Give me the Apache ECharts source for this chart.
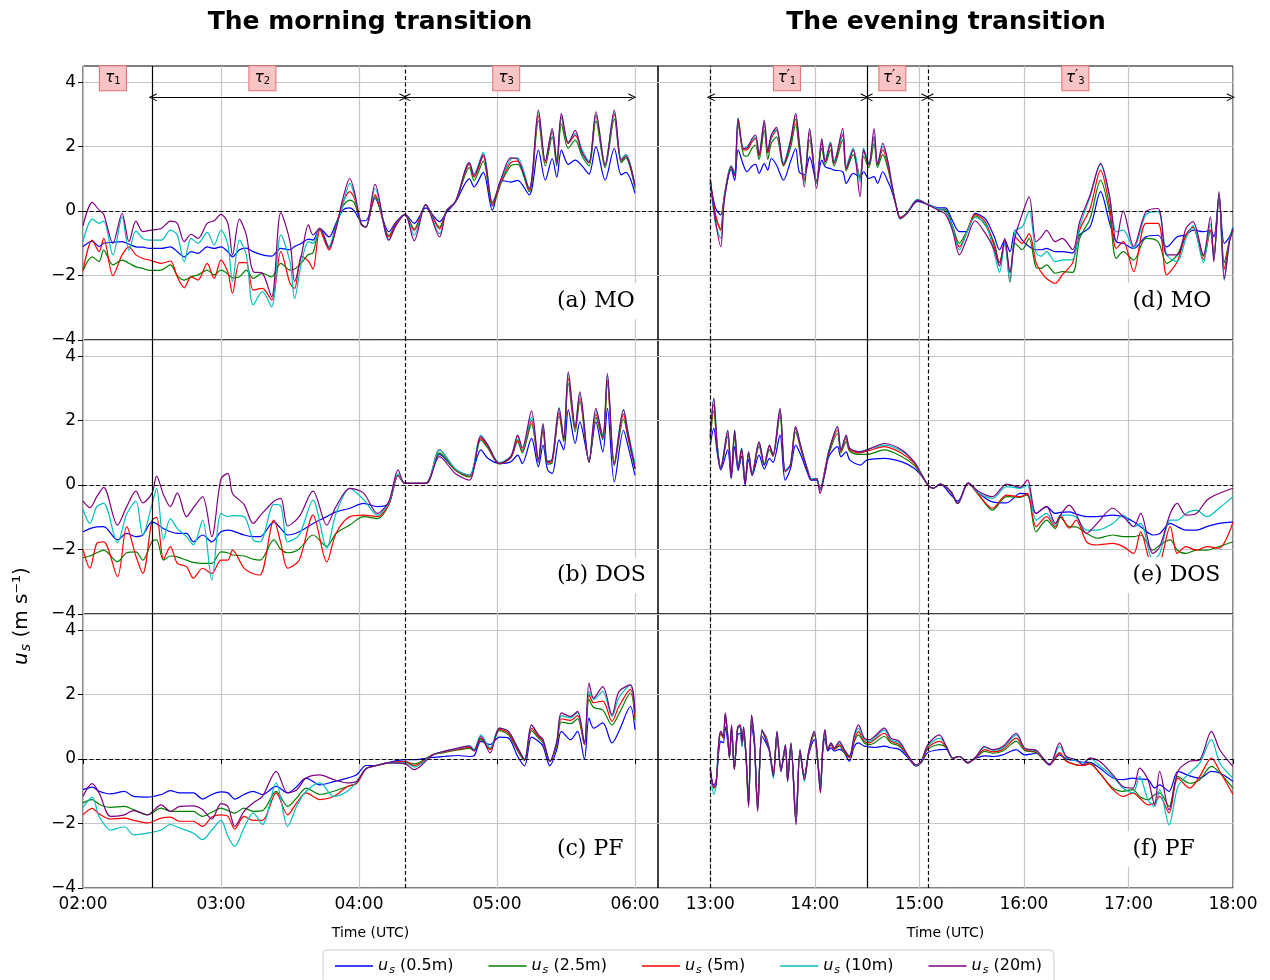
<!DOCTYPE html>
<html>
<head>
<meta charset="utf-8">
<script src="https://cdn.jsdelivr.net/npm/echarts@6/dist/echarts.min.js"></script>
<style>
html,body{margin:0;padding:0;background:#fff;}
#chart{width:1270px;height:980px;}
</style>
</head>
<body>
<div id="chart"></div>
<script>
// Measurement heights and their line colours
const heightLabels = ['0.5m', '2.5m', '5m', '10m', '20m'];
const lineColors = ['#0000ff', '#008000', '#ff0000', '#00bfbf', '#800080'];

// Time in minutes after midnight (UTC)
const amTicks = [120, 180, 240, 300, 360];
const pmTicks = [780, 840, 900, 960, 1020, 1080];
const yTicks = [-4, -2, 0, 2, 4];

// Phase boundaries (minutes) and phase labels (rich text)
const amPhaseEdges = [150, 260];
const pmPhaseEdges = [780, 870, 905];
const amPhaseNames = ['{t|\u03c4}{s|1}', '{t|\u03c4}{s|2}', '{t|\u03c4}{s|3}'];
const pmPhaseNames = ['{t|\u03c4}{q|\u2032}{s|1}', '{t|\u03c4}{q|\u2032}{s|2}', '{t|\u03c4}{q|\u2032}{s|3}'];

// Rows: [time (min), u_s 0.5m, 2.5m, 5m, 10m, 20m]  (m s-1)
const rowsMO_AM = [
  [120,-1.1,-1.85,-1.85,-0.95,-0.45],[124,-0.93,-1.42,-0.9,-0.25,0.27],[127,-1.1,-1.57,-1.26,-0.38,0.03],
  [129,-1.0,-1.21,-0.85,-0.31,-0.1],[133,-0.97,-1.67,-2.0,-1.36,-1.0],[137,-0.95,-1.52,-1.36,-0.18,-0.07],
  [140,-1.03,-1.62,-1.11,-1.21,-0.95],[143,-1.11,-1.73,-1.36,-0.62,-0.31],[146,-1.12,-1.78,-1.47,-0.85,-0.64],
  [149,-1.16,-1.84,-1.52,-0.9,-0.6],[154,-1.16,-1.83,-1.62,-0.9,-0.54],[158,-1.11,-1.67,-1.55,-0.59,-0.31],
  [161,-1.26,-2.0,-2.04,-0.74,-0.38],[164,-1.42,-2.14,-2.38,-1.57,-0.95],[167,-1.26,-2.04,-2.04,-0.85,-0.72],
  [170,-1.31,-1.98,-2.14,-1.0,-0.85],[174,-1.11,-1.83,-1.62,-0.66,-0.38],[177,-1.16,-1.98,-2.09,-1.05,-0.3],
  [180,-1.11,-1.83,-1.52,-0.59,-0.1],[183,-1.26,-1.95,-1.9,-1.05,-0.38],[185,-1.42,-2.07,-2.55,-2.19,-1.36],
  [188,-1.2,-2.04,-1.6,-0.9,-0.25],[191,-1.15,-1.83,-1.6,-1.36,-0.74],[194,-1.26,-2.09,-2.45,-2.91,-1.88],
  [198,-1.36,-1.93,-2.4,-2.5,-1.93],[202,-1.4,-2.04,-2.76,-2.97,-2.66],[206,-1.16,-1.62,-1.26,-0.74,-0.05],
  [210,-1.2,-1.83,-2.24,-1.57,-0.95],[212,-1.1,-1.8,-2.4,-2.71,-2.19],[215,-1.0,-1.6,-1.4,-1.6,-1.36],
  [218,-0.87,-1.35,-1.55,-0.95,-0.43],[220,-0.9,-1.3,-1.8,-1.0,-0.74],[223,-0.54,-0.54,-0.59,-0.54,-0.54],
  [227,-0.8,-1.11,-1.21,-1.11,-1.16],[230,-0.38,-0.43,-0.54,-0.49,-0.54],[233,0.03,0.15,0.25,0.19,0.39],
  [236,0.1,0.34,0.6,0.86,1.01],[238,0.0,0.25,0.4,0.5,0.6],[241,-0.3,-0.43,-0.4,-0.4,-0.4],
  [243,-0.3,-0.48,-0.5,-0.5,-0.5],[247,0.39,0.45,0.5,0.7,0.83],[253,-0.64,-0.75,-0.8,-0.9,-0.9],
  [256,-0.35,-0.4,-0.4,-0.45,-0.45],[260,-0.1,-0.1,-0.1,-0.1,-0.1],[264,-0.38,-0.55,-0.6,-0.75,-0.92],
  [269,0.1,0.18,0.2,0.2,0.2],[275,-0.33,-0.5,-0.55,-0.7,-0.8],[278,-0.05,0.0,0.0,0.0,0.0],
  [282,0.28,0.3,0.3,0.3,0.3],[288,1.0,1.35,1.45,1.5,1.5],[290,0.75,0.95,1.05,1.15,1.1],
  [294,1.2,1.55,1.7,1.82,1.75],[298,0.03,0.15,0.2,0.28,0.25],[302,0.95,0.9,0.95,1.0,1.05],
  [306,0.9,1.4,1.5,1.6,1.65],[309,0.95,1.45,1.55,1.65,1.6],[314,0.5,0.6,0.65,0.7,0.7],
  [318,1.89,2.8,2.95,3.05,3.13],[321,0.96,1.4,1.5,1.55,1.55],[324,1.63,2.3,2.45,2.5,2.56],
  [326,1.05,1.4,1.5,1.55,1.5],[328,1.89,2.7,2.9,2.95,3.03],[331,1.45,1.95,2.1,2.15,2.1],
  [334,1.58,2.2,2.35,2.4,2.5],[337,1.4,1.7,1.85,1.9,1.8],[340,1.15,1.4,1.5,1.55,1.5],
  [343,2.0,2.8,2.95,3.0,3.08],[347,0.96,1.35,1.45,1.45,1.4],[351,1.94,2.85,3.0,3.05,3.13],
  [354,1.12,1.5,1.6,1.6,1.55],[356,1.2,1.65,1.75,1.75,1.7],[360,0.55,0.7,0.75,0.75,0.8]
];

const rowsMO_PM = [
  [780,0.85,0.9,1.0,0.9,1.0],[783,0.1,-0.2,-0.1,-0.4,-0.3],[786,-0.12,-0.55,-0.6,-0.85,-1.1],
  [788,0.4,0.45,0.45,0.4,0.3],[792,1.3,1.3,1.4,1.4,1.37],[794,0.95,1.15,1.2,1.2,1.1],
  [796,1.9,2.7,2.8,2.9,2.87],[799,1.43,1.75,1.9,1.95,1.94],[801,1.22,1.7,1.9,2.0,1.95],
  [804,1.4,1.95,2.15,2.2,2.25],[806,1.45,2.05,2.25,2.3,2.36],[808,1.17,1.6,1.7,1.8,1.75],
  [811,1.47,2.5,2.7,2.75,2.82],[813,1.27,1.6,1.8,1.9,1.85],[815,1.63,2.1,2.25,2.3,2.36],
  [818,1.43,2.3,2.5,2.55,2.6],[822,0.96,1.4,1.45,1.5,1.43],[826,1.53,1.95,2.1,2.2,2.15],
  [829,1.94,2.7,2.85,2.95,3.03],[831,1.22,1.95,2.1,2.2,2.15],[834,1.12,1.0,0.95,0.9,0.75],
  [837,1.68,2.2,2.4,2.5,2.56],[841,0.91,0.95,0.9,0.85,0.7],[844,1.58,1.95,2.1,2.2,2.25],
  [846,1.37,1.45,1.55,1.6,1.53],[849,1.32,1.9,2.05,2.15,2.1],[851,1.27,1.4,1.5,1.55,1.48],
  [856,1.22,2.2,2.35,2.4,2.56],[858,0.86,1.25,1.35,1.4,1.3],[862,1.17,1.75,1.9,1.95,1.9],
  [866,1.07,1.05,1.0,0.9,0.44],[868,1.22,1.7,1.85,1.95,1.9],[871,1.01,1.35,1.45,1.5,1.43],
  [874,1.07,2.1,2.3,2.3,2.56],[876,0.86,1.35,1.45,1.5,1.43],[879,1.22,1.75,1.9,2.0,2.1],
  [882,0.91,1.3,1.4,1.5,1.53],[884,0.65,0.8,0.85,0.9,0.9],[887,0.1,0.1,0.1,0.1,0.08],
  [889,-0.2,-0.2,-0.2,-0.25,-0.23],[893,-0.05,-0.05,-0.05,-0.05,-0.07],[899,0.3,0.33,0.35,0.36,0.34],
  [905,0.2,0.2,0.2,0.2,0.19],[912,0.1,0.05,0.05,0.05,0.0],[915,0.1,0.05,0.0,0.0,-0.1],
  [919,-0.3,-0.45,-0.5,-0.5,-0.6],[923,-0.64,-1.0,-1.11,-1.21,-1.36],[927,-0.64,-0.65,-0.7,-0.7,-0.9],
  [932,-0.07,-0.15,-0.1,-0.2,-0.3],[938,-0.25,-0.45,-0.35,-0.4,-0.7],[943,-0.8,-1.0,-1.1,-1.3,-1.2],
  [946,-1.2,-1.6,-1.6,-1.9,-1.7],[949,-0.9,-1.0,-0.95,-1.0,-0.85],[952,-1.26,-1.9,-2.2,-2.2,-1.9],
  [955,-0.6,-1.0,-0.8,-0.6,-0.8],[959,-0.9,-1.2,-1.0,-0.5,-0.1],[963,-1.1,-0.85,-0.7,0.0,0.44],
  [967,-1.2,-1.75,-1.6,-1.3,-0.95],[970,-1.2,-1.78,-1.9,-1.4,-0.8],[973,-1.16,-1.67,-2.09,-1.26,-0.6],
  [978,-1.26,-1.93,-2.24,-1.57,-0.95],[982,-1.26,-1.88,-1.98,-1.52,-0.85],[988,-1.3,-1.9,-1.6,-1.5,-1.2],
  [992,-0.74,-0.85,-0.59,-0.49,-0.33],[998,-0.49,-0.23,0.08,0.44,0.5],[1004,0.6,0.96,1.27,1.45,1.48],
  [1009,-0.33,-0.02,0.19,0.5,0.5],[1013,-0.95,-1.47,-1.16,-0.64,-0.95],[1017,-1.0,-1.26,-0.95,-0.59,0.0],
  [1023,-1.16,-1.52,-1.88,-1.16,-1.1],[1030,-0.8,-0.85,-0.38,-0.12,-0.02],[1037,-0.75,-0.95,-0.38,-0.02,0.08],
  [1042,-1.11,-1.62,-1.98,-1.36,-1.36],[1048,-0.8,-1.36,-1.57,-1.57,-1.36],[1053,-0.74,-0.74,-0.74,-0.85,-0.54],
  [1057,-0.59,-0.5,-0.5,-0.45,-0.33],[1063,-0.64,-1.4,-1.5,-1.6,-1.36],[1067,-0.6,-0.6,-0.6,-0.4,-0.18],
  [1069,-0.8,-1.4,-1.4,-1.5,-1.57],[1072,0.4,0.5,0.5,0.55,0.6],[1075,-1.0,-1.6,-1.8,-2.15,-2.1],
  [1078,-0.8,-0.9,-0.9,-0.9,-0.95],[1080,-0.5,-0.6,-0.6,-0.5,-0.54]
];

const rowsDOS_AM = [
  [120,-1.45,-2.25,-2.0,-0.75,-0.5],[123,-1.35,-2.2,-2.58,-1.19,-0.7],[126,-1.3,-2.1,-1.81,-0.67,-0.36],
  [129,-1.29,-2.02,-1.76,-0.57,-0.07],[135,-1.7,-2.38,-2.84,-1.79,-1.24],[139,-1.5,-2.1,-1.29,-0.9,-0.67],
  [143,-1.6,-2.07,-2.2,-0.5,-0.19],[146,-1.55,-2.33,-2.74,-1.55,-0.55],[150,-1.14,-1.75,-1.1,-0.6,-0.25],
  [152,-1.2,-1.7,-1.0,-0.1,0.28],[155,-1.35,-2.33,-2.3,-1.7,-0.3],[158,-1.45,-2.2,-1.91,-1.04,-0.67],
  [161,-1.5,-2.23,-2.43,-1.35,-0.24],[165,-1.5,-2.33,-2.53,-1.6,-0.98],[168,-1.76,-2.4,-2.89,-1.86,-0.7],
  [172,-1.55,-2.43,-2.58,-1.09,-0.36],[176,-1.76,-2.43,-2.74,-2.95,-1.6],[180,-1.45,-2.07,-2.33,-0.88,0.2],
  [183,-1.4,-2.1,-2.33,-0.98,0.36],[185,-1.42,-2.17,-2.02,-0.95,-0.26],[190,-1.55,-2.2,-2.58,-0.98,-0.6],
  [194,-1.6,-2.3,-2.75,-1.7,-1.19],[197,-1.6,-2.33,-2.79,-1.76,-0.95],[203,-1.14,-1.7,-1.09,-0.6,-0.5],
  [206,-1.35,-2.0,-1.8,-0.65,-0.41],[209,-1.55,-2.1,-2.58,-1.76,-1.27],[214,-1.45,-1.98,-2.33,-1.55,-0.98],
  [220,-1.19,-1.55,-0.93,-0.47,-0.19],[226,-0.98,-1.9,-2.38,-1.96,-1.24],[230,-0.83,-1.5,-1.5,-0.88,-0.67],
  [236,-0.72,-1.24,-0.98,-0.1,-0.1],[242,-0.57,-0.98,-0.93,-0.45,-0.25],[248,-0.67,-1.04,-0.98,-0.93,-0.88],
  [253,-0.57,-0.6,-0.6,-0.55,-0.5],[257,0.3,0.3,0.3,0.35,0.47],[260,0.05,0.05,0.05,0.05,0.05],
  [269,0.05,0.05,0.05,0.05,0.05],[275,0.95,1.0,1.09,1.09,0.88],[282,0.47,0.45,0.47,0.5,0.35],
  [288,0.3,0.25,0.28,0.3,0.15],[293,1.09,1.4,1.45,1.55,1.5],[296,0.83,1.15,1.2,1.25,1.24],
  [301,0.67,0.65,0.67,0.7,0.67],[306,0.72,0.85,0.85,0.9,0.88],[309,0.93,1.35,1.4,1.5,1.55],
  [311,0.67,1.0,1.05,1.1,1.15],[315,1.45,1.9,2.0,2.1,2.3],[318,0.57,0.7,0.75,0.8,0.8],
  [320,1.24,1.7,1.75,1.85,1.91],[322,0.47,0.65,0.7,0.75,0.72],[324,0.36,0.7,0.75,0.8,0.8],
  [327,1.4,2.15,2.25,2.4,2.38],[329,1.09,1.35,1.4,1.45,1.45],[331,2.33,3.15,3.3,3.45,3.51],
  [334,1.29,1.65,1.75,1.85,1.8],[336,1.96,2.6,2.7,2.85,2.89],[340,0.78,0.7,0.72,0.75,0.72],
  [343,1.96,2.1,2.2,2.3,2.38],[346,1.03,1.4,1.45,1.55,1.5],[348,2.38,3.15,3.25,3.4,3.46],
  [351,0.1,0.6,0.65,0.7,0.67],[355,1.7,2.05,2.2,2.35,2.33],[357,1.2,1.45,1.5,1.65,1.6],
  [360,0.3,0.5,0.55,0.67,0.5]
];

const rowsDOS_PM = [
  [780,1.24,1.4,1.5,1.6,1.5],[782,1.76,2.3,2.5,2.69,2.69],[784,1.0,1.15,1.2,1.25,1.19],
  [786,0.47,0.55,0.55,0.55,0.52],[790,1.09,1.5,1.6,1.7,1.7],[792,0.2,0.3,0.3,0.3,0.26],
  [794,1.19,1.5,1.6,1.7,1.7],[796,0.45,0.55,0.55,0.55,0.5],[798,0.9,1.05,1.1,1.14,1.14],
  [800,0.0,0.1,0.1,0.1,0.05],[802,0.8,0.95,0.98,1.03,1.03],[804,0.3,0.35,0.35,0.35,0.31],
  [808,0.93,1.2,1.3,1.34,1.34],[811,0.5,0.62,0.65,0.65,0.62],[814,0.83,1.1,1.2,1.24,1.24],
  [816,0.7,0.9,0.9,0.95,0.93],[820,1.55,2.15,2.3,2.35,2.38],[823,0.15,0.45,0.45,0.45,0.41],
  [826,0.5,0.6,0.62,0.65,0.62],[829,1.24,1.65,1.75,1.8,1.81],[832,0.93,1.1,1.15,1.2,1.19],
  [836,0.35,0.45,0.45,0.45,0.41],[838,0.15,0.2,0.2,0.2,0.15],[841,0.15,0.2,0.2,0.2,0.2],
  [843,-0.1,-0.15,-0.15,-0.15,-0.26],[846,0.4,0.5,0.55,0.5,0.46],[848,0.88,0.95,1.03,1.05,1.03],
  [853,1.19,1.6,1.7,1.8,1.81],[855,0.88,1.0,1.05,1.1,1.09],[858,1.03,1.35,1.45,1.5,1.55],
  [860,0.78,1.05,1.1,1.15,1.14],[866,0.62,0.95,1.0,1.03,1.03],[870,0.78,0.95,1.05,1.1,1.09],
  [880,0.83,1.09,1.19,1.24,1.29],[890,0.72,0.88,0.98,1.05,1.09],[897,0.52,0.62,0.68,0.72,0.72],
  [901,0.3,0.32,0.34,0.36,0.36],[905,0.0,0.0,0.0,0.0,0.0],[908,-0.1,-0.1,-0.1,-0.1,-0.1],
  [912,0.03,0.03,0.03,0.03,0.03],[918,-0.3,-0.2,-0.2,-0.2,-0.2],[922,-0.5,-0.57,-0.57,-0.57,-0.57],
  [928,0.05,0.05,0.05,0.07,0.07],[934,-0.25,-0.3,-0.3,-0.25,-0.2],[942,-0.52,-0.78,-0.72,-0.41,-0.36],
  [950,-0.55,-0.36,-0.31,-0.05,0.03],[958,-0.26,-0.38,-0.36,-0.1,-0.07],[962,-0.3,-0.3,-0.26,0.0,0.16],
  [967,-0.88,-1.45,-1.29,-1.09,-0.88],[973,-0.67,-1.09,-0.98,-0.88,-0.67],[978,-0.88,-1.35,-1.3,-1.24,-1.19],
  [981,-0.85,-1.0,-0.95,-0.93,-0.93],[986,-0.83,-1.29,-1.34,-0.93,-0.62],[990,-0.9,-1.3,-1.09,-1.0,-0.9],
  [996,-0.98,-1.5,-1.76,-1.4,-1.5],[1002,-0.98,-1.65,-1.86,-1.4,-1.19],[1011,-0.93,-1.55,-1.81,-1.19,-0.72],
  [1017,-0.98,-1.6,-1.91,-0.93,-0.98],[1023,-1.14,-1.6,-2.12,-1.29,-1.29],[1027,-1.29,-1.55,-1.45,-1.19,-0.88],
  [1034,-1.55,-2.02,-2.53,-2.33,-2.12],[1038,-1.5,-1.86,-2.43,-2.12,-1.91],[1044,-1.19,-1.7,-1.29,-1.09,-0.88],
  [1048,-1.29,-2.02,-2.12,-1.09,-0.57],[1053,-1.4,-2.12,-1.91,-0.88,-0.93],[1059,-1.4,-2.02,-2.02,-0.78,-0.88],
  [1065,-1.29,-2.02,-1.91,-0.98,-0.47],[1072,-1.19,-1.91,-1.96,-0.72,-0.26],[1080,-1.14,-1.76,-1.14,-0.36,-0.1]
];

const rowsPF_AM = [
  [120,-0.95,-1.36,-1.73,-1.5,-1.15],[124,-0.87,-1.26,-1.53,-1.18,-0.76],[127,-1.0,-1.4,-1.7,-1.78,-1.05],
  [132,-1.08,-1.5,-1.86,-2.2,-1.78],[138,-1.0,-1.47,-1.83,-2.1,-1.73],[142,-1.16,-1.57,-1.9,-2.35,-1.6],
  [148,-1.18,-1.73,-1.98,-2.3,-1.73],[154,-1.1,-1.52,-1.83,-2.2,-1.42],[158,-0.98,-1.62,-1.8,-2.03,-1.62],
  [162,-1.05,-1.62,-1.93,-2.14,-1.47],[168,-1.05,-1.62,-1.93,-2.3,-1.45],[172,-1.24,-1.78,-2.09,-2.5,-1.57],
  [176,-1.1,-1.65,-1.8,-2.2,-1.86],[180,-1.02,-1.52,-1.73,-1.9,-1.38],[183,-1.05,-1.6,-1.78,-2.4,-1.47],
  [186,-1.24,-1.68,-2.17,-2.71,-2.09],[190,-1.1,-1.52,-1.78,-2.14,-1.62],[194,-1.0,-1.62,-1.9,-1.67,-1.36],
  [198,-1.1,-1.6,-1.9,-2.03,-1.16],[204,-0.85,-1.0,-1.05,-0.74,-0.38],[209,-1.05,-1.47,-1.73,-2.09,-1.05],
  [213,-0.85,-1.2,-1.35,-1.45,-0.95],[217,-0.59,-0.9,-1.05,-1.0,-0.59],[223,-0.8,-1.1,-1.26,-0.74,-0.49],
  [229,-0.7,-1.0,-1.16,-1.16,-0.64],[235,-0.59,-0.85,-0.85,-1.0,-0.74],[239,-0.49,-0.75,-0.75,-0.7,-0.69],
  [243,-0.2,-0.3,-0.3,-0.3,-0.3],[247,-0.2,-0.21,-0.21,-0.21,-0.21],[253,-0.1,-0.12,-0.12,-0.12,-0.12],
  [260,-0.02,-0.08,-0.08,-0.12,-0.15],[264,-0.02,-0.15,-0.2,-0.25,-0.33],[272,0.05,0.13,0.13,0.13,0.13],
  [277,0.08,0.2,0.22,0.24,0.24],[283,0.11,0.28,0.3,0.32,0.34],[288,0.08,0.33,0.36,0.41,0.41],
  [290,0.1,0.26,0.28,0.3,0.25],[293,0.55,0.6,0.65,0.75,0.7],[297,0.45,0.3,0.3,0.35,0.19],
  [301,0.68,0.88,0.93,0.96,0.96],[305,0.65,0.75,0.8,0.86,0.86],[309,0.08,0.25,0.3,0.36,0.34],
  [312,-0.21,-0.05,-0.02,0.0,-0.02],[315,0.68,0.88,0.95,1.05,1.06],[318,0.55,0.65,0.7,0.75,0.75],
  [320,0.4,0.5,0.55,0.6,0.6],[323,-0.21,-0.07,-0.07,-0.05,-0.07],[326,0.3,0.45,0.5,0.55,0.55],
  [328,0.86,1.15,1.25,1.35,1.43],[332,0.6,1.1,1.2,1.28,1.32],[335,0.86,1.25,1.35,1.45,1.48],
  [338,0.0,0.45,0.45,0.5,0.5],[340,1.27,1.85,2.0,2.1,2.36],[342,0.96,1.6,1.75,1.85,1.89],
  [346,1.12,1.52,1.8,2.1,2.25],[350,0.5,1.06,1.17,1.32,1.37],[353,0.86,1.4,1.63,1.9,2.09],
  [358,1.63,2.05,2.16,2.3,2.3],[360,0.91,1.2,1.3,1.45,1.43]
];

const rowsPF_PM = [
  [780,-0.3,-0.3,-0.3,-0.4,-0.3],[782,-0.8,-0.9,-0.9,-1.1,-0.85],[783.3,-0.7,-0.8,-0.8,-0.85,-0.8],
  [785,0.3,0.55,0.55,0.6,0.6],[786.1,0.55,0.78,0.8,0.86,0.86],[787.5,0.5,0.65,0.65,0.7,0.7],
  [788.6,1.0,1.3,1.35,1.4,1.43],[790,0.55,0.7,0.7,0.75,0.75],[791,0.1,0.05,0.05,0.05,0.03],
  [792.2,0.8,0.95,1.0,1.0,1.06],[793.8,-0.2,-0.3,-0.3,-0.3,-0.33],[795.7,0.75,0.95,1.0,0.95,0.96],
  [797.2,0.8,1.0,1.05,1.0,1.06],[798.2,0.4,0.45,0.45,0.4,0.5],[799.1,0.75,0.9,0.95,0.95,1.0],
  [800.5,0.1,0.1,0.1,0.1,0.13],[802,-1.2,-1.4,-1.4,-1.5,-1.47],[803.7,1.05,1.25,1.3,1.35,1.37],
  [805.3,0.45,0.55,0.55,0.6,0.6],[807.2,-1.3,-1.5,-1.55,-1.6,-1.62],[809.7,0.7,0.85,0.85,0.9,0.91],
  [812,0.5,0.6,0.7,0.65,0.6],[813.9,0.25,0.3,0.3,0.3,0.29],[816.2,-0.4,-0.5,-0.5,-0.6,-0.54],
  [818.3,0.65,0.8,0.8,0.85,0.86],[820.6,-0.3,-0.35,-0.35,-0.4,-0.38],[823.1,0.35,0.4,0.4,0.45,0.44],
  [824.4,-0.55,-0.65,-0.65,-0.7,-0.69],[826.3,0.4,0.45,0.45,0.5,0.5],[829.2,-1.7,-1.9,-1.95,-2.0,-2.04],
  [831.5,0.2,0.25,0.25,0.3,0.29],[834,-0.5,-0.6,-0.6,-0.7,-0.64],[836.5,0.15,0.2,0.2,0.25,0.24],
  [839.7,0.6,0.75,0.8,0.85,0.86],[841.6,0.0,0.0,0.0,0.0,-0.02],[843.2,-0.8,-0.95,-0.95,-1.0,-1.05],
  [844.5,0.2,0.3,0.3,0.3,0.29],[845.8,0.65,0.8,0.85,0.9,0.91],[847.4,0.25,0.3,0.3,0.3,0.29],
  [849.3,0.35,0.45,0.45,0.5,0.5],[851.2,0.25,0.3,0.3,0.35,0.34],[854.1,0.3,0.4,0.45,0.5,0.55],
  [856.9,0.2,0.2,0.25,0.3,0.29],[859.8,-0.07,0.05,0.05,0.1,0.08],[862.7,0.4,0.55,0.6,0.7,0.75],
  [865,0.5,0.75,0.85,0.95,1.06],[868.4,0.4,0.5,0.55,0.6,0.65],[871.3,0.38,0.45,0.5,0.55,0.6],
  [874.2,0.36,0.5,0.6,0.65,0.7],[879.9,0.4,0.7,0.8,0.9,0.96],[883.7,0.35,0.5,0.55,0.6,0.65],
  [888.5,0.3,0.4,0.45,0.5,0.55],[893.3,0.05,0.1,0.1,0.13,0.13],[898.1,-0.22,-0.2,-0.2,-0.2,-0.18],
  [901,-0.12,-0.1,-0.1,-0.08,-0.07],[904.8,0.2,0.3,0.35,0.4,0.44],[911.5,0.29,0.45,0.55,0.65,0.75],
  [915.4,0.3,0.36,0.38,0.4,0.4],[919.2,0.03,0.03,0.03,0.03,0.03],[923.1,0.08,0.08,0.08,0.08,0.08],
  [927.8,-0.1,-0.12,-0.12,-0.12,-0.12],[932.6,0.03,0.05,0.06,0.08,0.08],[937.4,0.1,0.24,0.29,0.36,0.39],
  [942.2,0.08,0.18,0.22,0.27,0.29],[947.9,0.13,0.25,0.3,0.35,0.39],[955.6,0.29,0.55,0.65,0.75,0.8],
  [960.4,0.13,0.27,0.3,0.33,0.34],[967.1,0.18,0.2,0.22,0.25,0.27],[974.7,-0.15,-0.18,-0.18,-0.18,-0.18],
  [980.5,0.13,0.18,0.2,0.39,0.5],[984.3,0.0,-0.05,-0.07,0.05,0.08],[990,-0.05,-0.18,-0.18,-0.05,-0.02],
  [993.9,-0.1,-0.2,-0.2,-0.12,-0.18],[997.7,-0.1,-0.12,-0.15,0.03,0.03],[1003.4,-0.28,-0.43,-0.43,-0.2,-0.07],
  [1011.1,-0.59,-0.9,-0.95,-0.54,-0.49],[1016.8,-0.64,-1.0,-1.16,-0.9,-0.85],[1022.6,-0.59,-0.95,-1.05,-1.05,-0.9],
  [1026.4,-0.62,-1.16,-1.21,-0.54,-0.28],[1031.2,-0.64,-1.26,-1.42,-1.26,-0.64],[1035,-0.9,-1.11,-1.36,-1.47,-1.42],
  [1037.9,-0.8,-1.05,-1.16,-0.95,-0.38],[1043.3,-1.0,-1.47,-1.67,-2.04,-1.57],[1048.4,-0.38,-0.54,-0.59,-0.85,-0.38],
  [1055.1,-0.52,-0.75,-0.9,-0.43,-0.07],[1060.9,-0.59,-0.64,-0.54,-0.12,-0.02],[1067.6,-0.38,-0.23,0.03,0.6,0.86],
  [1072.4,-0.43,-0.43,-0.38,-0.12,0.29],[1080,-0.69,-0.9,-1.1,-0.59,-0.23]
];

// Panel layout: [rows, column (0 = morning, 1 = evening), row index, panel tag]
const panels = [
  [rowsMO_AM, 0, 0, '(a) MO'], [rowsMO_PM, 1, 0, '(d) MO'],
  [rowsDOS_AM, 0, 1, '(b) DOS'], [rowsDOS_PM, 1, 1, '(e) DOS'],
  [rowsPF_AM, 0, 2, '(c) PF'], [rowsPF_PM, 1, 2, '(f) PF']
];

const SANS = 'DejaVu Sans';
const SERIF = 'DejaVu Serif';
const GRID_GRAY = '#c6c6c6';
const colLeft = [83, 658];
const rowTop = [66, 340, 614];
const panelW = 575, panelH = 274;

const hhmm = m => {
  const h = Math.floor(m / 60), mm = Math.round(m - h * 60);
  return String(h).padStart(2, '0') + ':' + String(mm).padStart(2, '0');
};
const minusFmt = v => (v < 0 ? '\u2212' + Math.abs(v) : String(v));

const chevron = 'path://M0,10 L5,0 L10,10 L8.6,10 L5,2.8 L1.4,10 Z';

const tauRich = {
  t: { fontSize: 15, fontStyle: 'italic', fontFamily: SANS, color: '#000' },
  q: { fontSize: 14, fontFamily: SANS, color: '#000', padding: [0, 0, 6, 0] },
  s: { fontSize: 10, fontFamily: SANS, color: '#000', padding: [7, 0, 0, 0] }
};

const grids = [], xAxes = [], yAxes = [], series = [];

panels.forEach((p, g) => {
  const [rows, col, row, tag] = p;
  const am = col === 0;
  const bottom = row === 2;
  const ticks = am ? amTicks : pmTicks;
  grids.push({
    left: colLeft[col], top: rowTop[row], width: panelW, height: panelH,
    show: true, borderColor: '#000', borderWidth: 1, backgroundColor: 'transparent'
  });
  xAxes.push({
    gridIndex: g, type: 'value', min: am ? 120 : 750, max: am ? 370 : 1080,
    axisLine: { show: false },
    axisTick: { show: bottom, customValues: ticks, length: 5, lineStyle: { color: '#000', width: 1 } },
    axisLabel: { show: bottom, customValues: ticks, formatter: hhmm, fontSize: 17, fontFamily: SANS, color: '#000', margin: 8 },
    splitLine: { show: true, lineStyle: { color: GRID_GRAY, width: 1.2 } },
    name: bottom ? 'Time (UTC)' : '', nameLocation: 'middle', nameGap: 38,
    nameTextStyle: { fontSize: 14, fontFamily: SANS, color: '#000' }
  });
  yAxes.push({
    gridIndex: g, type: 'value', min: -4, max: 4.5,
    axisLine: { show: false },
    axisTick: { show: am, customValues: yTicks, length: 5, lineStyle: { color: '#000', width: 1 } },
    axisLabel: { show: am, customValues: yTicks, formatter: minusFmt, fontSize: 17, fontFamily: SANS, color: '#000', margin: 7 },
    splitLine: { show: true, lineStyle: { color: GRID_GRAY, width: 1.2 } }
  });

  const edges = am ? amPhaseEdges : pmPhaseEdges;
  const edgeStyles = am ? ['solid', 'dashed'] : ['dashed', 'solid', 'dashed'];
  const refLines = [{ yAxis: 0, lineStyle: { type: [4, 2.5], color: '#000', width: 1.2 } }];
  edges.forEach((e, i) => refLines.push({
    xAxis: e,
    lineStyle: { type: edgeStyles[i] === 'dashed' ? [4, 2.5] : 'solid', color: '#000', width: 1.2 }
  }));

  // Phase arrows and labels on the top row
  const arrowY = 3.53, boxY = 4.12;
  const arrowSpans = am ? [[150.3, 259.3], [260.6, 358.8]]
                        : [[780.3, 868.6], [870.8, 903.5], [905.8, 1078.8]];
  const labelX = am ? [133, 198, 304] : [824, 884.5, 989.5];
  const names = am ? amPhaseNames : pmPhaseNames;
  const arrowLines = row === 0 ? arrowSpans.map(s => [
    { coord: [s[0], arrowY], symbol: chevron, symbolSize: [8, 8], lineStyle: { type: 'solid', color: '#000', width: 1.2 } },
    { coord: [s[1], arrowY], symbol: chevron, symbolSize: [8, 8] }
  ]) : [];

  const phaseBoxes = row === 0 ? names.map((n, i) => ({
    name: 'phase' + i, coord: [labelX[i], boxY], symbol: 'rect', symbolSize: [27, 25],
    itemStyle: { color: '#f9c4c4', borderColor: '#e27272', borderWidth: 1 },
    label: { show: true, position: 'inside', formatter: n, rich: tauRich, color: '#000' }
  })) : [];

  const tagPoint = {
    name: tag, coord: [am ? 323 : 1018.3, -2.8], symbol: 'rect', symbolSize: 0,
    label: {
      show: true, position: 'right', distance: 0, formatter: tag,
      fontSize: 22, fontFamily: SERIF, color: '#000', backgroundColor: '#fff', padding: [7, 7, 7, 7]
    }
  };

  heightLabels.forEach((h, k) => {
    const s = {
      type: 'line', name: h, xAxisIndex: g, yAxisIndex: g,
      data: rows.map(r => [r[0], r[k + 1]]),
      symbol: 'none', smooth: 0.3, animation: false,
      lineStyle: { width: 1.2, color: lineColors[k] },
      itemStyle: { color: lineColors[k] },
      emphasis: { disabled: true }
    };
    if (k === heightLabels.length - 1) {
      s.markLine = {
        silent: true, animation: false, symbol: ['none', 'none'], label: { show: false },
        data: refLines.concat(arrowLines)
      };
      s.markPoint = { silent: true, animation: false, data: phaseBoxes.concat([tagPoint]) };
    }
    series.push(s);
  });
});

const chart = echarts.init(document.getElementById('chart'), null, { renderer: 'canvas' });
chart.setOption({
  backgroundColor: '#fff',
  animation: false,
  title: [
    { text: 'The morning transition', left: 370, top: 10, textAlign: 'center', padding: 0,
      textStyle: { fontSize: 25, fontWeight: 'bold', fontFamily: SANS, color: '#000' } },
    { text: 'The evening transition', left: 946, top: 10, textAlign: 'center', padding: 0,
      textStyle: { fontSize: 25, fontWeight: 'bold', fontFamily: SANS, color: '#000' } }
  ],
  grid: grids,
  xAxis: xAxes,
  yAxis: yAxes,
  series: series,
  legend: {
    data: heightLabels, left: 323, top: 950, icon: 'rect', itemWidth: 38, itemHeight: 1.4, itemGap: 35,
    padding: [8, 12, 8, 12], borderColor: '#cccccc', borderWidth: 1, borderRadius: 4,
    backgroundColor: '#fff',
    formatter: n => '{i|u}{s|s}{n| (' + n + ')}',
    textStyle: {
      fontSize: 16, fontFamily: SANS, color: '#000',
      rich: {
        i: { fontSize: 16, fontStyle: 'italic', fontFamily: SANS, color: '#000' },
        s: { fontSize: 11, fontStyle: 'italic', fontFamily: SANS, color: '#000', padding: [8, 0, 0, 1] },
        n: { fontSize: 16, fontFamily: SANS, color: '#000' }
      }
    }
  },
  graphic: [{
    type: 'text', x: 22, y: 616, rotation: Math.PI / 2,
    style: {
      text: '{u|u}{s|s}{n| (m s\u207b\u00b9)}', align: 'center', verticalAlign: 'middle',
      rich: {
        u: { fontSize: 20, fontStyle: 'italic', fontFamily: SANS, fill: '#000' },
        s: { fontSize: 14, fontStyle: 'italic', fontFamily: SANS, fill: '#000', padding: [9, 0, 0, 1] },
        n: { fontSize: 20, fontFamily: SANS, fill: '#000' }
      }
    }
  }]
});
</script>
</body>
</html>
